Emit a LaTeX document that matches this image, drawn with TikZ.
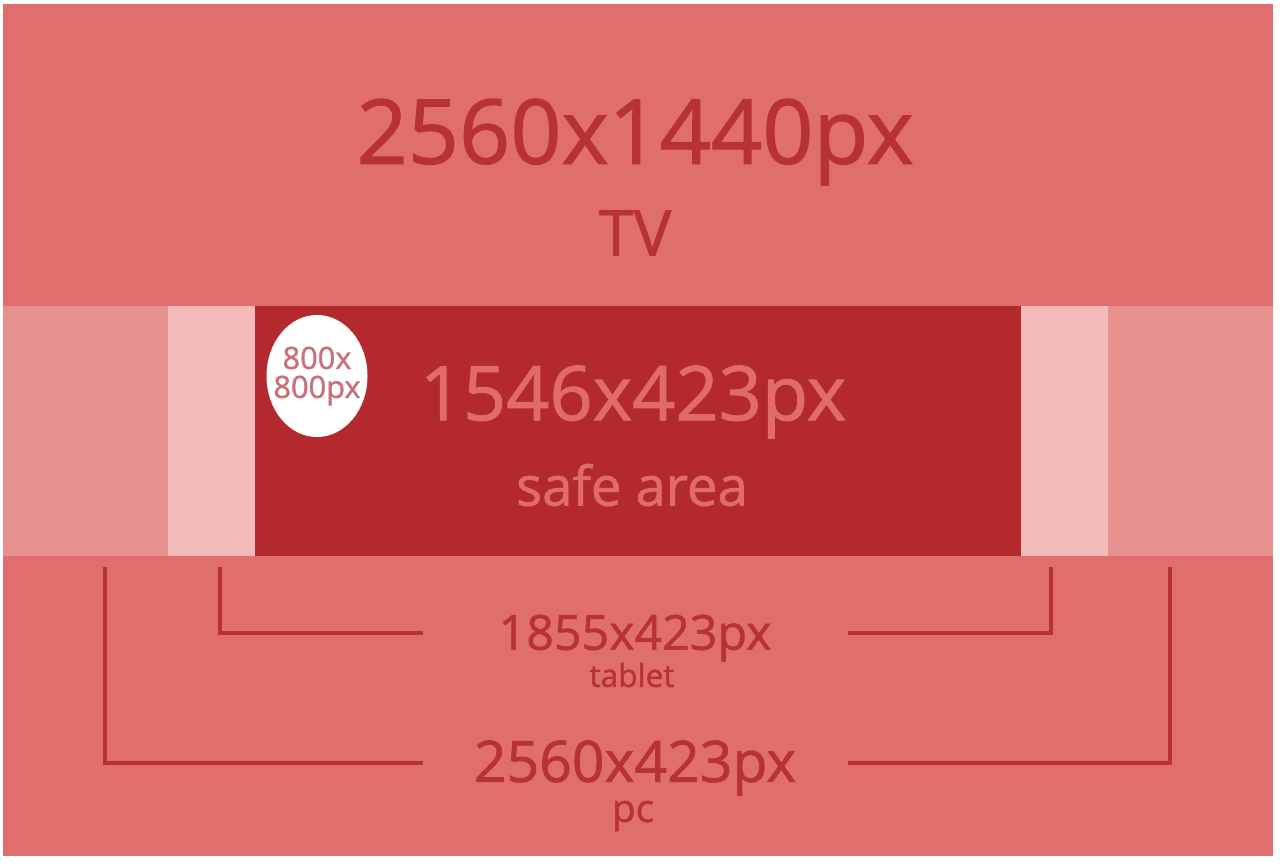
\documentclass[tikz,border=0pt]{standalone}
\usepackage{fontspec}
\setmainfont{Open Sans}[FakeBold=1.2]
\usetikzlibrary{positioning, shapes.geometric}
\definecolor{tvred}{HTML}{E06E6E}
\definecolor{safered}{HTML}{B3292E}
\definecolor{pcpink}{HTML}{E69090}
\definecolor{tabpink}{HTML}{F3BABA}
\definecolor{labelred}{HTML}{B73137}
\definecolor{safetext}{HTML}{E06A6C}
\definecolor{logotext}{HTML}{C7707A}

\begin{document}
\begin{tikzpicture}[x=0.02cm, y=-0.02cm]
                    \tikzstyle{every node}=[inner sep=0pt, outer sep=0pt]
                    \tikzstyle{dimlabel} = [text=labelred, align=center]
                    \tikzstyle{bracket} = [draw=labelred, line width=2.3pt]

                    \useasboundingbox[fill=white] (0,0) rectangle (1280,865);

                    % areas
                    \fill[tvred] (3,4) rectangle (1273,856);
                    \fill[pcpink] (3,306) rectangle (1273,556);
                    \fill[tabpink] (168,306) rectangle (1108,556);
                    \fill[safered] (255,306) rectangle (1021,556);

                    % labels
                    \node[dimlabel, font=\fontsize{51}{56}\selectfont](tvsize) at (635,142) {2560x1440px};
                    \node[dimlabel, font=\fontsize{36}{40}\selectfont](tvname) at (635,233) {TV};
                    \node[text=safetext, font=\fontsize{43}{48}\selectfont](safesize) at (633,402) {1546x423px};
                    \node[text=safetext, font=\fontsize{31}{36}\selectfont](safename) at (632,485) {safe area};
                    \node[dimlabel, font=\fontsize{27.5}{31}\selectfont](tabsize) at (635,638) {1855x423px};
                    \node[dimlabel, font=\fontsize{18}{20}\selectfont](tabname) at (632,675) {tablet};
                    \node[dimlabel, font=\fontsize{32.5}{36}\selectfont](pcsize) at (635,768) {2560x423px};
                    \node[dimlabel, font=\fontsize{22}{24}\selectfont](pcname) at (633,816) {pc};

                    % profile picture
                    \node[ellipse, fill=white, minimum width=101*0.02cm, minimum height=122*0.02cm](logo) at (317,376) {};
                    \node[text=logotext, align=center, font=\fontsize{17.5}{16.5}\selectfont](logosize) at (logo) {800x\\800px};

                    % brackets
                    \coordinate (tabL) at (220,567);
                    \coordinate (tabR) at (1051,567);
                    \coordinate (pcL) at (105,567);
                    \coordinate (pcR) at (1170,567);
                    \coordinate (tabLend) at (423,633);
                    \coordinate (tabRend) at (848,633);
                    \coordinate (pcLend) at (423,763);
                    \coordinate (pcRend) at (848,763);

                    \draw[bracket] (tabL) |- (tabLend);
                    \draw[bracket] (tabR) |- (tabRend);
                    \draw[bracket] (pcL) |- (pcLend);
                    \draw[bracket] (pcR) |- (pcRend);
            \end{tikzpicture}
\end{document}
